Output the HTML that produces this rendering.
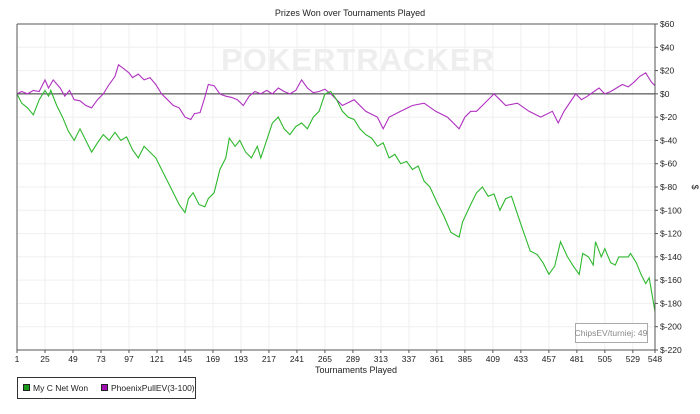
<!DOCTYPE html>
<html><head><meta charset="utf-8"><style>
body{margin:0;background:#fff;font-family:"Liberation Sans",sans-serif;}
svg text{font-family:"Liberation Sans",sans-serif;}
</style></head><body>
<svg id="chart" width="700" height="409" viewBox="0 0 700 409">
<text x="350" y="16" font-size="9" text-anchor="middle" fill="#222">Prizes Won over Tournaments Played</text>
<g id="grid"></g>
<text x="358" y="70" font-size="31" font-weight="bold" text-anchor="middle" fill="#eeeeee" letter-spacing="1">POKERTRACKER</text>
<g id="series"></g>
<g id="axes"></g>
<text x="356" y="373" font-size="9" text-anchor="middle" fill="#222">Tournaments Played</text>
<text x="692" y="187" font-size="9" text-anchor="middle" fill="#222" transform="rotate(90 692 187)">$</text>
<g>
<rect x="575.5" y="323.5" width="72" height="19" fill="#fff" stroke="#aaa"/>
<text x="611" y="336" font-size="8.5" text-anchor="middle" fill="#888">ChipsEV/turniej: 49</text>
</g>
<g>
<rect x="17.5" y="377.5" width="178" height="21" fill="#fff" stroke="#333"/>
<g><rect x="23.5" y="384.5" width="6" height="6" fill="#1a9a1a" stroke="#222"/><text x="33" y="391" font-size="8.5" fill="#222">My C Net Won</text></g>
<g><rect x="101.5" y="384.5" width="6" height="6" fill="#a010b0" stroke="#222"/><text x="111" y="391" font-size="8.5" fill="#222">PhoenixPullEV(3-100)</text></g>
</g>
</svg>
<script>
const xTicks=[1,25,49,73,97,121,145,169,193,217,241,265,289,313,337,361,385,409,433,457,481,505,529,548];
const yTicks=[60,40,20,0,-20,-40,-60,-80,-100,-120,-140,-160,-180,-200,-220];
const greenT=[1,5,10,15,20,25,28,30,35,40,45,50,55,60,65,70,75,80,85,90,95,100,105,110,115,120,125,130,135,140,145,148,152,157,162,165,170,175,180,183,188,192,197,202,207,210,215,220,225,230,235,240,245,250,255,260,265,270,275,280,285,290,295,300,305,310,315,320,325,330,335,340,345,350,355,361,367,373,380,383,390,395,400,405,410,415,420,425,433,441,447,452,457,462,467,473,478,483,486,491,495,497,502,505,510,514,517,525,527,532,536,540,543,548];
const greenV=[0,-8,-12,-18,-5,3,-2,3,-10,-20,-32,-40,-30,-40,-50,-42,-35,-40,-33,-40,-37,-48,-55,-45,-50,-55,-65,-75,-85,-95,-102,-90,-85,-95,-97,-90,-85,-65,-55,-38,-45,-40,-50,-55,-45,-55,-40,-25,-20,-30,-35,-28,-25,-30,-20,-15,0,2,-5,-15,-20,-22,-30,-35,-38,-45,-42,-55,-52,-60,-58,-65,-62,-75,-80,-93,-105,-119,-123,-110,-95,-85,-80,-88,-86,-100,-90,-88,-112,-135,-138,-145,-155,-148,-127,-140,-148,-155,-137,-140,-147,-127,-140,-133,-145,-147,-140,-140,-137,-145,-155,-163,-158,-187];
const purpleT=[1,5,10,15,20,25,28,32,38,42,46,50,55,60,65,70,75,80,85,88,92,97,100,105,110,115,120,125,130,135,140,145,150,153,158,162,165,170,175,180,185,190,195,200,205,210,215,220,225,230,235,240,245,250,255,260,265,270,275,280,290,300,310,315,320,330,340,350,360,370,380,385,390,395,400,410,415,420,430,440,450,460,465,470,480,485,490,500,505,510,515,520,525,530,535,540,545,548];
const purpleV=[0,2,0,3,2,12,5,12,5,-2,3,-5,-6,-10,-12,-5,0,8,15,25,22,18,14,17,12,14,8,0,-5,-10,-12,-20,-22,-17,-16,-3,8,7,0,-2,-3,-5,-10,-2,2,0,3,0,5,2,0,3,12,5,1,2,4,0,-5,-10,-5,-15,-20,-30,-20,-15,-10,-8,-15,-20,-30,-20,-15,-15,-10,0,-5,-10,-8,-15,-20,-15,-25,-15,0,-5,-2,5,0,2,5,8,6,10,15,18,10,7];
const L=17,R=655,T=24,B=350;
const xs=t=>L+(t-1)/(548-1)*(R-L);
const ys=v=>T+(60-v)/280*(B-T);
const NS="http://www.w3.org/2000/svg";
function mk(tag,attrs,parent){const e=document.createElementNS(NS,tag);for(const k in attrs)e.setAttribute(k,attrs[k]);parent.appendChild(e);return e;}
const grid=document.getElementById('grid'),axes=document.getElementById('axes'),series=document.getElementById('series');
mk('rect',{x:L,y:T,width:R-L,height:B-T,fill:'#fff'},grid);
xTicks.forEach(t=>{const x=xs(t);
 const g=mk('line',{x1:x,y1:T,x2:x,y2:B,stroke:'#efefef'},grid);
 
 
 mk('line',{x1:x,y1:B,x2:x,y2:B+3,stroke:'#555'},axes);
 const tx=mk('text',{x:x,y:B+12,'font-size':8.5,'text-anchor':'middle',fill:'#222'},axes);tx.textContent=t;
 
 });
yTicks.forEach(v=>{const y=ys(v);
 const g=mk('line',{x1:L,y1:y,x2:R,y2:y,stroke:'#efefef'},grid);
 
 
 mk('line',{x1:R,y1:y,x2:R+3,y2:y,stroke:'#555'},axes);
 const tx=mk('text',{x:R+5,y:y+3,'font-size':8.5,fill:'#222'},axes);tx.textContent=v<0?'$-'+(-v):'$'+v;
 
 });
const zl=mk('line',{x1:L,y1:ys(0),x2:R,y2:ys(0),stroke:'#333','stroke-width':1},series);


function line(ts,vs,color,name){const d=ts.map((t,i)=>(i?'L':'M')+xs(t).toFixed(1)+','+ys(vs[i]).toFixed(1)).join('');
 const p=mk('path',{d:d,fill:'none',stroke:color,'stroke-width':1.1},series);
 
 }
line(purpleT,purpleV,'#b030c0','phoenix-pull-ev-line');
line(greenT,greenV,'#2eb82e','net-won-line');
mk('path',{d:`M${L},${T}L${L},${B}L${R},${B}L${R},${T}`,fill:'none',stroke:'#555','stroke-width':1},axes);
mk('line',{x1:L,y1:T,x2:R,y2:T,stroke:'#555'},axes);
</script>
</body></html>
